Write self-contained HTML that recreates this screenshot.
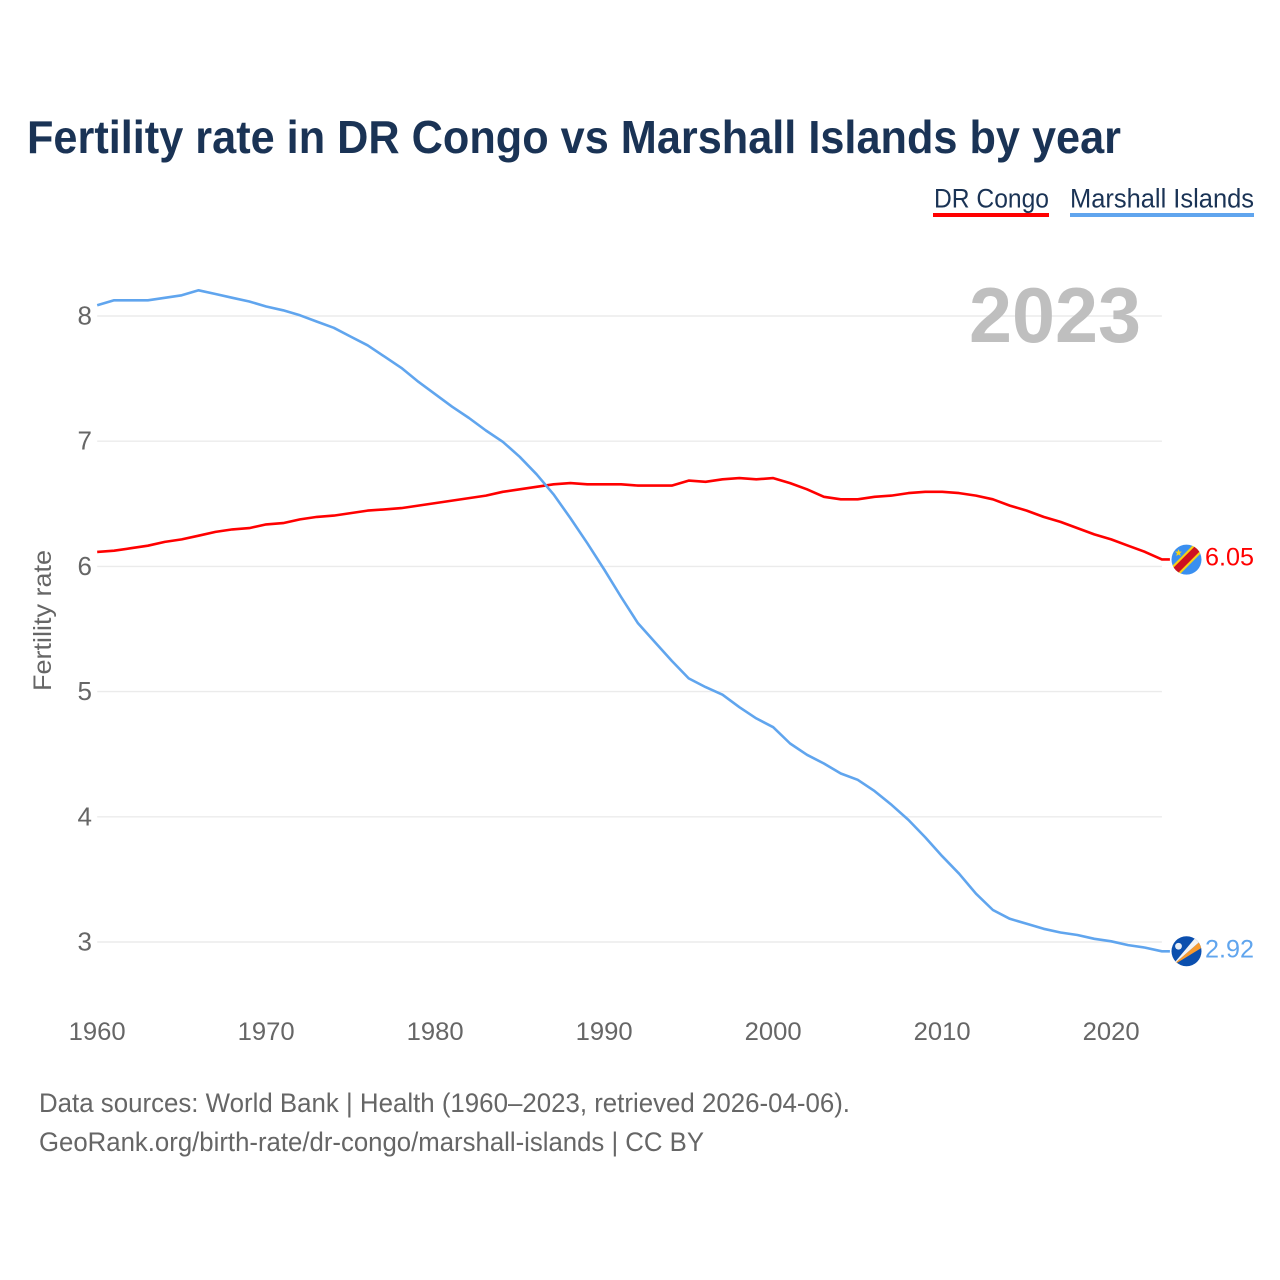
<!DOCTYPE html>
<html lang="en">
<head>
<meta charset="utf-8">
<title>Fertility rate in DR Congo vs Marshall Islands by year</title>
<style>
html,body{margin:0;padding:0;background:#fff;}
svg{display:block;font-family:"Liberation Sans",sans-serif;}
</style>
</head>
<body>
<svg id="chart" width="1280" height="1280" viewBox="0 0 1280 1280" xmlns="http://www.w3.org/2000/svg">
  <defs>
    <clipPath id="flag-clip"><circle cx="0" cy="0" r="15"></circle></clipPath>
  </defs>
  <rect width="1280" height="1280" fill="#fff"></rect>
  <text x="27" y="153" font-size="46" font-weight="700" fill="#1a3355" textLength="1094" lengthAdjust="spacingAndGlyphs">Fertility rate in DR Congo vs Marshall Islands by year</text>

  <g>
    <g>
      <text x="934" y="207.5" font-size="27" fill="#1a3355" textLength="115" lengthAdjust="spacingAndGlyphs">DR Congo</text>
      <rect x="933" y="213" width="116" height="4" fill="#ff0000"></rect>
    </g>
    <g>
      <text x="1070" y="207.5" font-size="27" fill="#1a3355" textLength="184" lengthAdjust="spacingAndGlyphs">Marshall Islands</text>
      <rect x="1070" y="213" width="184" height="4" fill="#60a5ee"></rect>
    </g>
  </g>

  <g id="grid"></g>
  <text x="969" y="342" font-size="78" font-weight="700" fill="#bfbfbf" textLength="172" lengthAdjust="spacingAndGlyphs">2023</text>
  <g id="y-ticks"></g>
  <g id="x-ticks"></g>
  <text transform="translate(51,691) rotate(-90)" font-size="25" fill="#666" textLength="141" lengthAdjust="spacingAndGlyphs">Fertility rate</text>

  <g id="series" transform="translate(0,-0.7)"></g>

  <g id="flag-congo">
    <g clip-path="url(#flag-clip)">
      <rect x="-16" y="-16" width="32" height="32" fill="#3a8ff0"></rect>
      <polygon points="-20,12 12,-20 20,-12 -12,20" fill="#f7d116"></polygon>
      <polygon points="-20,15 15,-20 20,-15 -15,20" fill="#ce1021"></polygon>
      <polygon points="-8,-10.5 -7,-8 -4.5,-8 -6.5,-6.3 -5.7,-3.7 -8,-5.2 -10.3,-3.7 -9.5,-6.3 -11.5,-8 -9,-8" fill="#f7d116"></polygon>
    </g>
  </g>
  <g id="flag-marshall">
    <g clip-path="url(#flag-clip)">
      <rect x="-16" y="-16" width="32" height="32" fill="#0b4fae"></rect>
      <polygon points="-15,15 16,-12 16,-4" fill="#f79a2e"></polygon>
      <polygon points="-15,15 16,-12 11,-16" fill="#f4f4f4"></polygon>
      <circle cx="-8" cy="-5" r="3.4" fill="#e8eef6"></circle>
    </g>
  </g>
  <g id="end-labels"></g>

  <g>
    <text x="39" y="1112" font-size="27" fill="#666" textLength="811" lengthAdjust="spacingAndGlyphs">Data sources: World Bank | Health (1960–2023, retrieved 2026-04-06).</text>
    <text x="39" y="1151" font-size="27" fill="#666" textLength="665" lengthAdjust="spacingAndGlyphs">GeoRank.org/birth-rate/dr-congo/marshall-islands | CC BY</text>
  </g>
</svg>
<script>
const startYear = 1960;
const congoValues = [6.11,6.12,6.14,6.16,6.19,6.21,6.24,6.27,6.29,6.30,6.33,6.34,6.37,6.39,6.40,6.42,6.44,6.45,6.46,6.48,6.50,6.52,6.54,6.56,6.59,6.61,6.63,6.65,6.66,6.65,6.65,6.65,6.64,6.64,6.64,6.68,6.67,6.69,6.70,6.69,6.70,6.66,6.61,6.55,6.53,6.53,6.55,6.56,6.58,6.59,6.59,6.58,6.56,6.53,6.48,6.44,6.39,6.35,6.30,6.25,6.21,6.16,6.11,6.05];
const marshallValues = [8.08,8.12,8.12,8.12,8.14,8.16,8.20,8.17,8.14,8.11,8.07,8.04,8.00,7.95,7.90,7.83,7.76,7.67,7.58,7.47,7.37,7.27,7.18,7.08,6.99,6.87,6.73,6.57,6.38,6.18,5.97,5.75,5.54,5.39,5.24,5.10,5.03,4.97,4.87,4.78,4.71,4.58,4.49,4.42,4.34,4.29,4.20,4.09,3.97,3.83,3.68,3.54,3.38,3.25,3.18,3.14,3.10,3.07,3.05,3.02,3.00,2.97,2.95,2.92];
const yTickValues = [3,4,5,6,7,8];
const xTickYears = [1960,1970,1980,1990,2000,2010,2020];

const NS = 'http://www.w3.org/2000/svg';
const xScale = year => 97.2 + (year - 1960) * 16.9;
const yScale = value => 316 + (8 - value) * 125.2;
const plotRight = xScale(2023);
const connectorEnd = plotRight + 8;

function make(tag, attrs, parent, text) {
  const el = document.createElementNS(NS, tag);
  for (const key in attrs) el.setAttribute(key, attrs[key]);
  if (text !== undefined) el.textContent = text;
  parent.appendChild(el);
  return el;
}

const gridGroup = document.getElementById('grid');
const yTickGroup = document.getElementById('y-ticks');
yTickValues.forEach(v => {
  const line = make('line', {x1: xScale(1960), x2: plotRight, y1: yScale(v), y2: yScale(v), stroke: '#ebebeb', 'stroke-width': 1.4}, gridGroup);
  
  
  const label = make('text', {x: 92, y: yScale(v) + 8.5, 'font-size': 26, fill: '#666', 'text-anchor': 'end'}, yTickGroup, String(v));
  
  
});

const xTickGroup = document.getElementById('x-ticks');
xTickYears.forEach(year => {
  const label = make('text', {x: xScale(year) - 28.5, y: 1040, 'font-size': 25, fill: '#666', textLength: 57, lengthAdjust: 'spacingAndGlyphs'}, xTickGroup, String(year));
  
  
});

function linePath(values) {
  const pts = values.map((v, i) => xScale(startYear + i).toFixed(1) + ',' + yScale(v).toFixed(1));
  pts.push(connectorEnd.toFixed(1) + ',' + yScale(values[values.length - 1]).toFixed(1));
  return 'M' + pts.join('L');
}

const seriesGroup = document.getElementById('series');
const congoLine = make('path', {d: linePath(congoValues), fill: 'none', stroke: '#ff0000', 'stroke-width': 2.6, 'stroke-linejoin': 'round'}, seriesGroup);


const marshallLine = make('path', {d: linePath(marshallValues), fill: 'none', stroke: '#60a5ee', 'stroke-width': 2.6, 'stroke-linejoin': 'round'}, seriesGroup);



const congoLast = congoValues[congoValues.length - 1];
const marshallLast = marshallValues[marshallValues.length - 1];
document.getElementById('flag-congo').setAttribute('transform', 'translate(1186.5,' + (yScale(congoLast) - 0.5) + ')');
document.getElementById('flag-marshall').setAttribute('transform', 'translate(1186.5,' + (yScale(marshallLast) - 0.8) + ')');

const endGroup = document.getElementById('end-labels');
const congoLabel = make('text', {x: 1205, y: yScale(congoLast) + 5.5, 'font-size': 25, fill: '#ff0000', textLength: 49, lengthAdjust: 'spacingAndGlyphs'}, endGroup, congoLast.toFixed(2));


const marshallLabel = make('text', {x: 1205, y: yScale(marshallLast) + 5.5, 'font-size': 25, fill: '#60a5ee', textLength: 49, lengthAdjust: 'spacingAndGlyphs'}, endGroup, marshallLast.toFixed(2));


</script>
</body>
</html>
